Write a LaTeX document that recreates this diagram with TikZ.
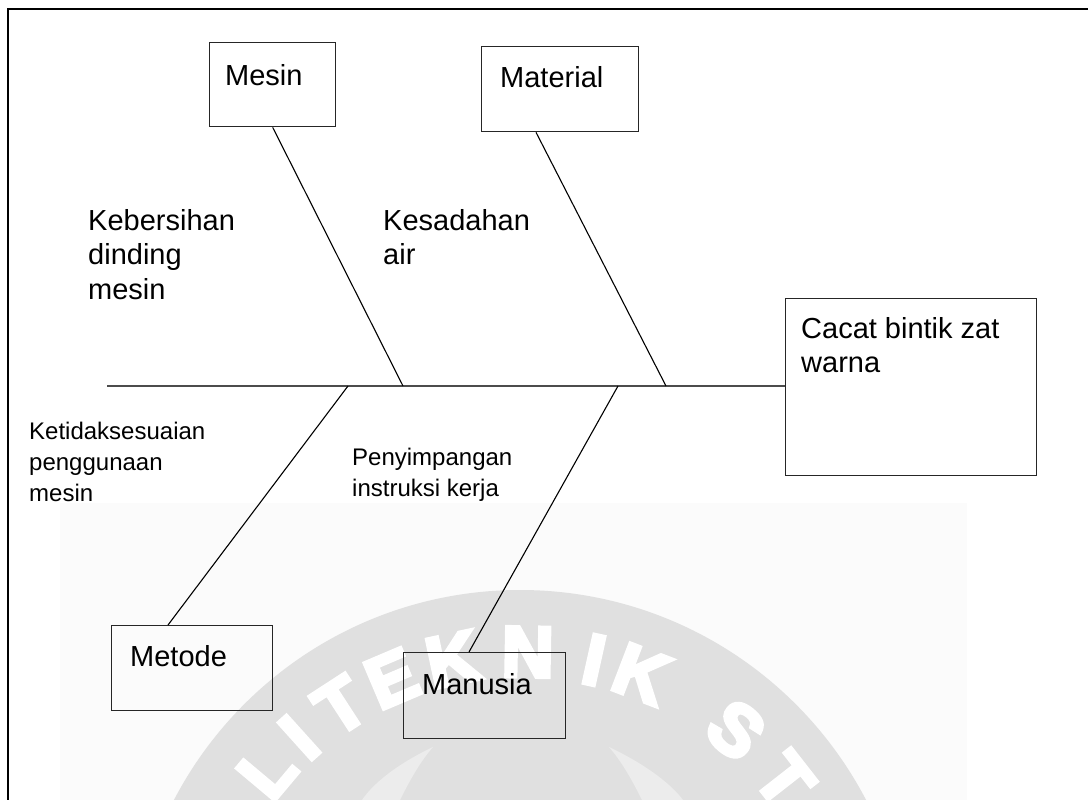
\documentclass[tikz,border=0pt]{standalone}
\usepackage{fontspec}
\setmainfont{Liberation Sans}
\newfontfamily\wmfont{Liberation Sans}
\usetikzlibrary{calc}
\definecolor{wmrect}{HTML}{FBFBFB}
\definecolor{wmdisc}{HTML}{E0E0E0}
\definecolor{wmlight}{HTML}{ECECEC}
\newcommand{\wmletter}[1]{\special{pdf:literal 2 Tr 4 w 1 1 1 RG}#1\special{pdf:literal 0 Tr}}
\begin{document}
\begin{tikzpicture}[x=1pt,y=-1pt,
  box/.style={draw=black!85, line width=1.3pt, inner sep=0pt, anchor=north west},
  big/.style={font=\fontsize{29}{34.5}\selectfont, inner sep=0pt, align=left, anchor=north west},
  boxtxt/.style={font=\fontsize{29}{34.5}\selectfont, inner sep=0pt, anchor=base west},
  small/.style={font=\fontsize{24}{31}\selectfont, inner sep=0pt, align=left, anchor=north west},
  bone/.style={line width=1.1pt, black},
  spine/.style={line width=2pt, black!70},
  wm/.style={text=white, font=\wmfont\bfseries\fontsize{72}{72}\selectfont, inner sep=0pt},
  frame/.style={line width=2.8pt, black}]
\useasboundingbox (0,0) rectangle (1088,800);
% watermark
\begin{scope}
\clip (0,0) rectangle (1088,800);
\fill[wmrect] (60,503) rectangle (967,800);
\fill[wmdisc] (520,980) circle[radius=390];
\fill[wmlight] (433,747) .. controls (395,765) and (372,785) .. (362,800) -- (400,800) .. controls (410,780) and (420,762) .. (433,747) -- cycle;
\fill[wmlight] (609,747) .. controls (647,765) and (672,785) .. (683,800) -- (642,800) .. controls (632,780) and (622,762) .. (609,747) -- cycle;
\foreach \l/\a [count=\i] in {L/140,I/132,T/123,E/113,K/102,N/89,I/77.5,K/69,S/50,T/38}{
  \node[wm, rotate=\a-90] (wm\i) at ($(522,985)+(\a:333 and -333)$) {\wmletter{\l}};
}
\end{scope}
% frame
\draw[frame] (8,800) -- (8,9) -- (1088,9);
% boxes
\node[box, minimum width=126, minimum height=84] (mesin) at (209,42) {};
\node[box, minimum width=157, minimum height=85] (material) at (481,46) {};
\node[box, minimum width=251, minimum height=177] (cacat) at (785,298) {};
\node[box, minimum width=161, minimum height=85] (metode) at (111,625) {};
\node[box, minimum width=162, minimum height=86] (manusia) at (403,652) {};
\node[boxtxt] (mesintxt) at (225,85) {Mesin};
\node[boxtxt] (materialtxt) at (500,88) {Material};
\node[boxtxt] (cacattxt1) at (801,338) {Cacat bintik zat};
\node[boxtxt] (cacattxt2) at (801,372) {warna};
\node[boxtxt] (metodetxt) at (130,666) {Metode};
\node[boxtxt] (manusiatxt) at (422,694) {Manusia};
% labels
\node[big] (kebersihan) at (88,209) {Kebersihan\\dinding\\mesin};
\node[big] (kesadahan) at (383,209) {Kesadahan\\air};
\node[small] (ketidak) at (29,422) {Ketidaksesuaian\\penggunaan\\mesin};
\node[small] (penyimpangan) at (352,448) {Penyimpangan\\instruksi kerja};
% spine and bones
\coordinate (tail) at (107,386);
\coordinate (j1) at (348,386);
\coordinate (j2) at (403,386);
\coordinate (j3) at (618,386);
\coordinate (j4) at (666,386);
\draw[spine] (tail) -- (tail -| cacat.west);
\draw[bone] (mesin.south) -- (j2);
\draw[bone] ($(material.south west)+(55,0)$) -- (j4);
\draw[bone] (j1) -- ($(metode.north west)+(57,0)$);
\draw[bone] (j3) -- ($(manusia.north west)+(66,0)$);
\end{tikzpicture}
\end{document}
